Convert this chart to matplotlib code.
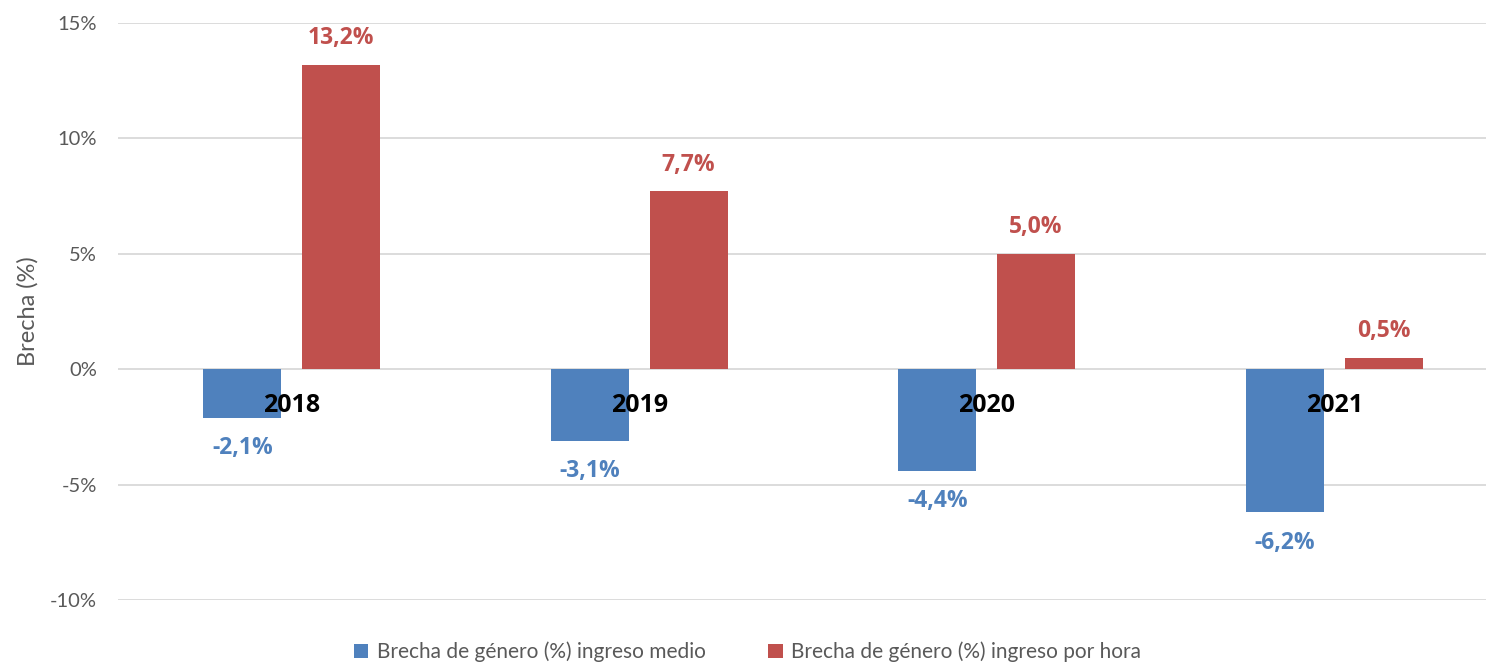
import matplotlib.pyplot as plt
import numpy as np

years = ["2018", "2019", "2020", "2021"]
brecha_medio = [-2.1, -3.1, -4.4, -6.2]
brecha_hora = [13.2, 7.7, 5.0, 0.5]
yticks = [-10, -5, 0, 5, 10, 15]

blue = "#4F81BD"
red = "#C0504D"
grey = "#595959"

plt.rcParams['font.family'] = ['Lato', 'DejaVu Sans']
bold_font = ['Open Sans', 'DejaVu Sans']

fig = plt.figure(figsize=(14.86, 6.62), dpi=100)
# el eje sigue mas alla del borde derecho, como en la imagen recortada
ax = fig.add_axes([118 / 1486, 62 / 662, 1390 / 1486, 577 / 662])

x = np.arange(len(years))
w = 0.225
b1 = ax.bar(x - 0.142, brecha_medio, w, color=blue, zorder=3,
            label="Brecha de género (%) ingreso medio")
b2 = ax.bar(x + 0.142, brecha_hora, w, color=red, zorder=3,
            label="Brecha de género (%) ingreso por hora")

def fmt(v):
    return ("%.1f%%" % v).replace(".", ",")

for xi, v in zip(x - 0.142, brecha_medio):
    ax.annotate(fmt(v), (xi, v), xytext=(0, -22), textcoords="offset points",
                ha="center", va="center", color=blue, fontsize=16.5,
                fontweight="bold", family=bold_font)
for xi, v in zip(x + 0.142, brecha_hora):
    ax.annotate(fmt(v), (xi, v), xytext=(0, 19), textcoords="offset points",
                ha="center", va="center", color=red, fontsize=16.5,
                fontweight="bold", family=bold_font)
for xi, y in zip(x, years):
    ax.annotate(y, (xi, 0), xytext=(0, -26), textcoords="offset points",
                ha="center", va="center", color="black", fontsize=18,
                fontweight="bold", family=bold_font, zorder=5)

ax.set_xlim(-0.5, len(years) - 0.5)
ax.set_ylim(-10, 15)
ax.set_yticks(yticks)
ax.set_yticklabels(["%d%%" % t for t in yticks], color=grey, fontsize=14.5)
ax.set_xticks([])
ax.tick_params(axis="y", length=0, pad=15)
ax.grid(axis="y", color="#D9D9D9", linewidth=1.3, zorder=0)
for s in ax.spines.values():
    s.set_visible(False)
ax.set_ylabel("Brecha (%)", color=grey, fontsize=17, labelpad=8)

fig.legend(handles=[b1, b2], loc="center", bbox_to_anchor=(0.503, 0.015),
           ncol=2, frameon=False, fontsize=15, labelcolor=grey,
           handlelength=0.7, handleheight=0.7, handletextpad=0.4,
           columnspacing=3.0)

fig.savefig("out.png", dpi=100)
